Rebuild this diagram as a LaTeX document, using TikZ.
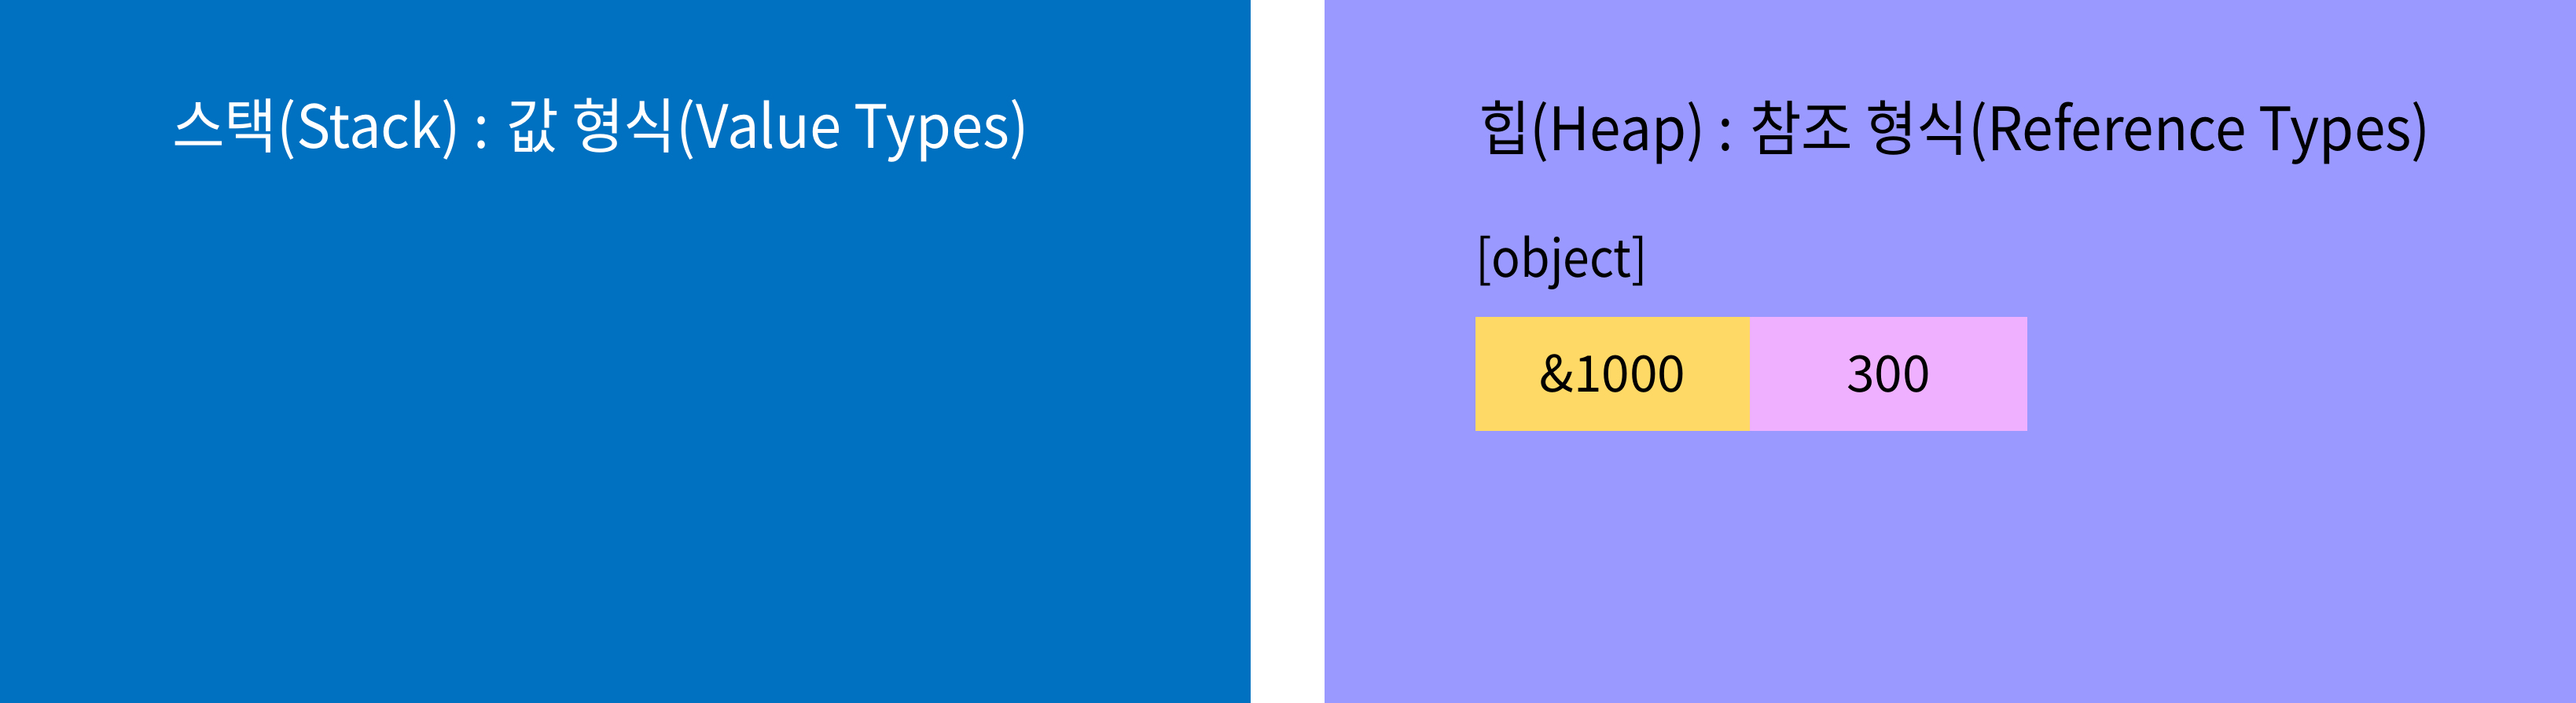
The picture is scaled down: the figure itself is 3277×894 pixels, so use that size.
\documentclass[tikz,border=0pt]{standalone}
\usepackage{fontspec}
\setmainfont{Noto Sans CJK KR}
\definecolor{stackblue}{HTML}{0070C0}
\definecolor{heapviolet}{HTML}{9999FF}
\definecolor{refyellow}{HTML}{FFD966}
\definecolor{valpink}{HTML}{EFB0FF}
\begin{document}
\begin{tikzpicture}[x=1pt,y=-1pt,
  title/.style={inner sep=0pt,anchor=base west,font=\fontsize{76}{90}\selectfont},
  cell/.style={draw=none,inner sep=0pt,outer sep=0pt,minimum height=145pt,font=\fontsize{64}{76}\selectfont,text=black}]
\useasboundingbox (0,0) rectangle (3277,894);
\fill[white] (0,0) rectangle (3277,894);
\fill[stackblue] (0,0) rectangle (1591,894);
\fill[heapviolet] (1685,0) rectangle (3277,894);
\node[title,text=white] (stacktitle) at (219,188) {\scalebox{0.954}[1]{스택(Stack) : 값 형식(Value Types)}};
\node[title,text=black] (heaptitle) at (1881,191) {\scalebox{0.937}[1]{힙(Heap) : 참조 형식(Reference Types)}};
\node[inner sep=0pt,anchor=base west,font=\fontsize{66}{78}\selectfont] (objlabel) at (1877,352) {\scalebox{0.92}[1]{[object]}};
\node[cell,fill=refyellow,minimum width=349pt,anchor=north west] (ref) at (1877,403) {\&1000};
\node[cell,fill=valpink,minimum width=353pt,anchor=north west] (val) at (2226,403) {300};
\end{tikzpicture}
\end{document}
